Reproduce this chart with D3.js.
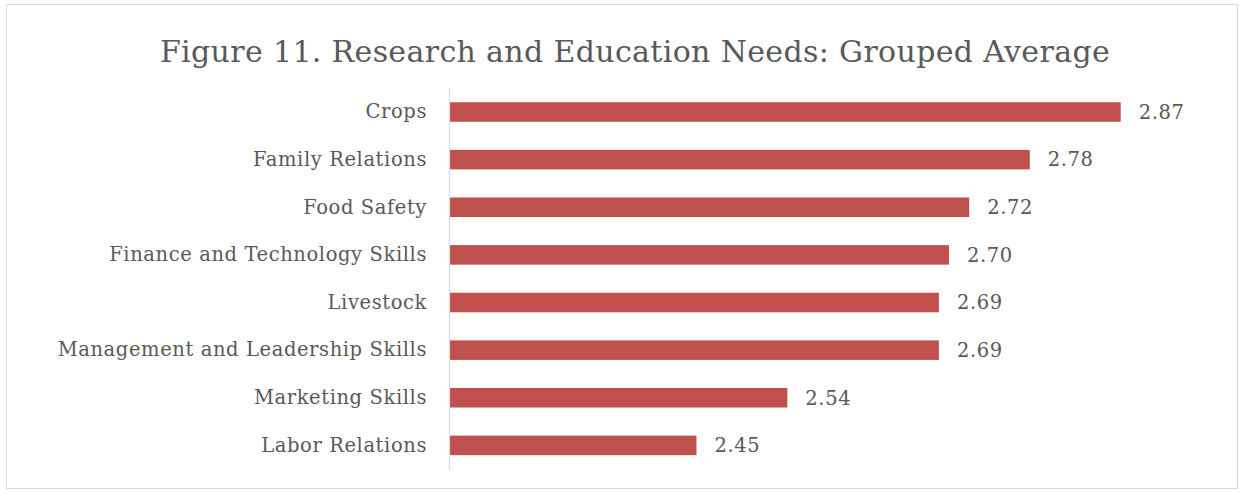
<!DOCTYPE html>
<html><head><meta charset="utf-8">
<script src="https://cdn.jsdelivr.net/npm/d3@7"></script>
<style>
html,body{margin:0;padding:0;background:#fff;}
svg{display:block;}
</style></head>
<body>
<svg id="chart" width="1243" height="493"></svg>
<script>
const titleText = "Figure 11. Research and Education Needs: Grouped Average";
const categories = ["Crops","Family Relations","Food Safety","Finance and Technology Skills","Livestock","Management and Leadership Skills","Marketing Skills","Labor Relations"];
const values = [2.87, 2.78, 2.72, 2.70, 2.69, 2.69, 2.54, 2.45];

const W = 1243, H = 493;
const svg = d3.select("#chart");
const font = "'DejaVu Serif', 'Liberation Serif', serif";
const textColor = "#595959";

svg.append("rect").attr("x",6.5).attr("y",4.5).attr("width",1231).attr("height",484)
  .attr("fill","#fff").attr("stroke","#d9d9d9").attr("stroke-width",1);

svg.append("text").attr("x",635).attr("y",62).attr("text-anchor","middle")
  .attr("font-family",font).attr("font-size",30).attr("letter-spacing",0.35)
  .attr("fill",textColor).text(titleText);

const x = d3.scaleLinear().domain([2.205, 2.9]).range([449, 1151]);
const y = d3.scaleBand().domain(categories).range([88.2, 469.2]).paddingInner(0.59).paddingOuter(0.295);

svg.append("g").selectAll("rect").data(categories).join("rect")
  .attr("x", x(2.205)).attr("y", d => y(d))
  .attr("width", (d,i) => x(values[i]) - x(2.205))
  .attr("height", y.bandwidth()).attr("fill","#c0504d");

const yAxis = svg.append("g").attr("transform",`translate(${x(2.205)},0)`)
  .call(d3.axisLeft(y).tickSize(0).tickPadding(22));
yAxis.select(".domain").attr("stroke","#d9d9d9").attr("stroke-width",1.2);
yAxis.selectAll("text").attr("font-family",font).attr("font-size",19.5)
  .attr("letter-spacing",0.6).attr("fill",textColor);

svg.append("g").selectAll("text").data(categories).join("text")
  .attr("x",(d,i)=> x(values[i]) + 18)
  .attr("y", d => y(d) + y.bandwidth()/2)
  .attr("dy","0.35em")
  .attr("font-family",font).attr("font-size",19.5).attr("letter-spacing",0.6).attr("fill",textColor)
  .text((d,i)=> values[i].toFixed(2));
</script>
</body></html>
